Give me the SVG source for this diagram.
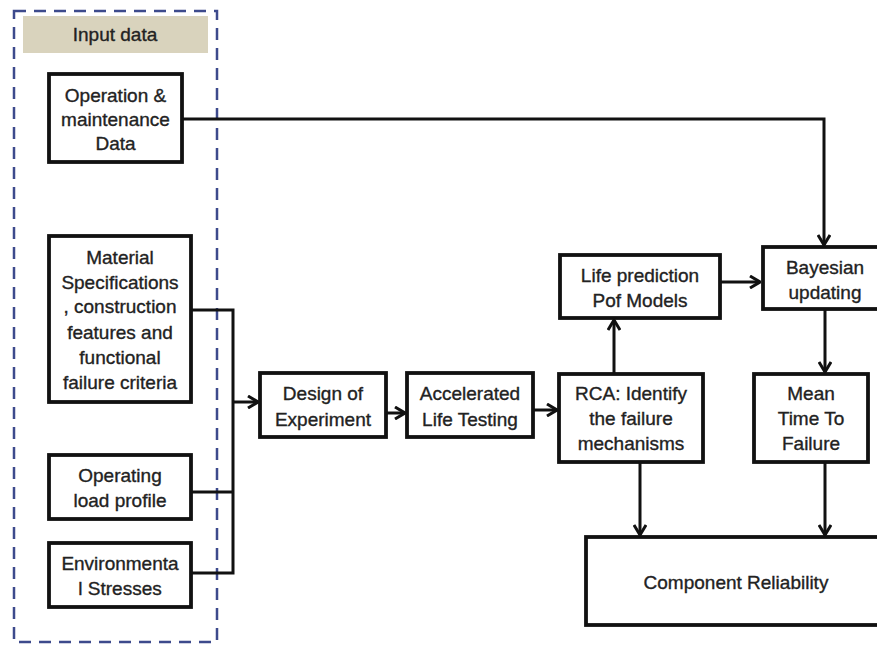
<svg xmlns="http://www.w3.org/2000/svg" width="877" height="646" viewBox="0 0 877 646">
<defs>
<style>
.box{fill:#fff;stroke:#111;stroke-width:3.8}
.t{font-family:"Liberation Sans",Arial,sans-serif;font-size:19px;fill:#222;stroke:#222;stroke-width:0.35;text-anchor:middle}
.c{fill:none;stroke:#111;stroke-width:3}
</style>
<marker id="ah" viewBox="0 0 12 14" refX="11" refY="7" markerWidth="12" markerHeight="14" markerUnits="userSpaceOnUse" orient="auto">
<path d="M1,1 L11,7 L1,13" fill="none" stroke="#111" stroke-width="3"/>
</marker>
</defs>
<rect width="877" height="646" fill="#fff"/>
<g id="input-frame">
<rect x="14" y="11" width="203" height="631" fill="none" stroke="#3d4a8c" stroke-width="2.5" stroke-dasharray="12 8"/>
<rect x="23" y="16" width="185" height="37" fill="#d9d3bd"/>
<text class="t" x="115" y="41" font-size="17">Input data</text>
</g>
<g id="connectors">
<polyline class="c" points="182,119 824,119 824,245" marker-end="url(#ah)"/>
<polyline class="c" points="191,310 233,310 233,573 191,573"/>
<line class="c" x1="191" y1="492" x2="233" y2="492"/>
<line class="c" x1="233" y1="402" x2="258" y2="402" marker-end="url(#ah)"/>
<line class="c" x1="386" y1="413" x2="405" y2="413" marker-end="url(#ah)"/>
<line class="c" x1="533" y1="410" x2="557" y2="410" marker-end="url(#ah)"/>
<line class="c" x1="614" y1="374" x2="614" y2="320" marker-end="url(#ah)"/>
<line class="c" x1="720" y1="282" x2="760" y2="282" marker-end="url(#ah)"/>
<line class="c" x1="825" y1="309" x2="825" y2="372" marker-end="url(#ah)"/>
<line class="c" x1="640" y1="462" x2="640" y2="535" marker-end="url(#ah)"/>
<line class="c" x1="825" y1="462" x2="825" y2="535" marker-end="url(#ah)"/>
</g>
<g id="om-data">
<rect class="box" x="49" y="74" width="133" height="88"/>
<text class="t" x="115.5" y="102">Operation &amp;</text>
<text class="t" x="115.5" y="126">maintenance</text>
<text class="t" x="115.5" y="150">Data</text>
</g>
<g id="material">
<rect class="box" x="49" y="236" width="142" height="166"/>
<text class="t" x="120" y="264">Material</text>
<text class="t" x="120" y="289">Specifications</text>
<text class="t" x="120" y="313">, construction</text>
<text class="t" x="120" y="339">features and</text>
<text class="t" x="120" y="364">functional</text>
<text class="t" x="120" y="389">failure criteria</text>
</g>
<g id="load">
<rect class="box" x="49" y="455" width="142" height="64"/>
<text class="t" x="120" y="482">Operating</text>
<text class="t" x="120" y="507">load profile</text>
</g>
<g id="env">
<rect class="box" x="49" y="543" width="142" height="64"/>
<text class="t" x="120" y="570">Environmenta</text>
<text class="t" x="120" y="595">l Stresses</text>
</g>
<g id="doe">
<rect class="box" x="260" y="373" width="126" height="64"/>
<text class="t" x="323" y="400">Design of</text>
<text class="t" x="323" y="426">Experiment</text>
</g>
<g id="alt">
<rect class="box" x="407" y="373" width="126" height="64"/>
<text class="t" x="470" y="400">Accelerated</text>
<text class="t" x="470" y="426">Life Testing</text>
</g>
<g id="rca">
<rect class="box" x="559" y="374" width="144" height="88"/>
<text class="t" x="631" y="400">RCA: Identify</text>
<text class="t" x="631" y="425">the failure</text>
<text class="t" x="631" y="450">mechanisms</text>
</g>
<g id="life">
<rect class="box" x="560" y="255" width="160" height="63"/>
<text class="t" x="640" y="282">Life prediction</text>
<text class="t" x="640" y="307">Pof Models</text>
</g>
<g id="bayes">
<rect class="box" x="763" y="247" width="124" height="62"/>
<text class="t" x="825" y="274">Bayesian</text>
<text class="t" x="825" y="299">updating</text>
</g>
<g id="mttf">
<rect class="box" x="754" y="374" width="114" height="88"/>
<text class="t" x="811" y="400">Mean</text>
<text class="t" x="811" y="425">Time To</text>
<text class="t" x="811" y="450">Failure</text>
</g>
<g id="reliability">
<rect class="box" x="586" y="537" width="300" height="88"/>
<text class="t" x="736" y="589">Component Reliability</text>
</g>
</svg>
